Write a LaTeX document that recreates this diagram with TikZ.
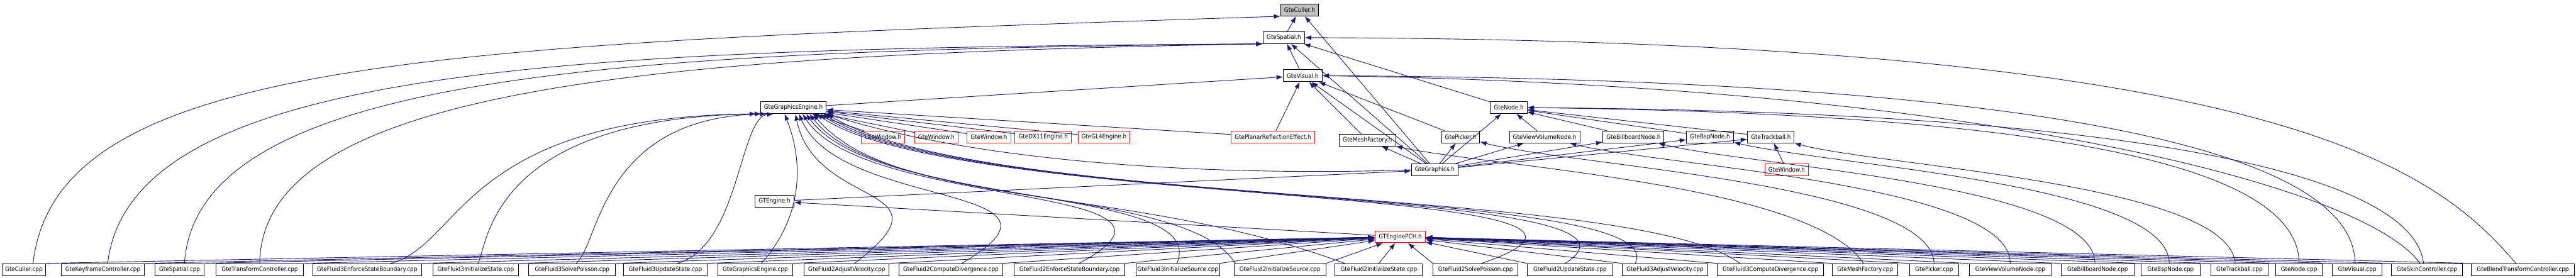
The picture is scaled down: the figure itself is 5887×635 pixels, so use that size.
\documentclass[tikz,border=0pt]{standalone}
\usepackage{fontspec}
\setmainfont{DejaVu Sans}[FakeStretch=0.88]
\usepackage{tikz}
\usetikzlibrary{arrows.meta}

\definecolor{edgeblue}{HTML}{191970}
\definecolor{rootgray}{HTML}{BFBFBF}

\tikzset{
  hbox/.style={draw=black, fill=white, line width=1.4pt, minimum height=27pt,
    inner xsep=8pt, inner ysep=0pt, font=\fontsize{14.4}{16}\selectfont},
  rootbox/.style={hbox, fill=rootgray},
  cutbox/.style={hbox, draw=red},
  cppbox/.style={hbox, inner xsep=0pt},
  dep/.style={draw=edgeblue, line width=1.3pt, {Latex[length=15pt,width=11pt]}-},
}

\begin{document}
\begin{tikzpicture}[x=1pt,y=-1pt]
    \useasboundingbox (0,0) rectangle (5887,635);

    % header nodes
    \node[rootbox] (culler_h) at (2970,23) {GteCuller.h};
    \node[hbox] (spatial_h) at (2934,86) {GteSpatial.h};
    \node[hbox] (visual_h) at (2977,173) {GteVisual.h};
    \node[hbox] (gengine_h) at (1813,246) {GteGraphicsEngine.h};
    \node[hbox] (node_h) at (3448,246) {GteNode.h};
    \node[cutbox] (win1) at (2018,313) {GteWindow.h};
    \node[cutbox] (win2) at (2140,313) {GteWindow.h};
    \node[cutbox] (win3) at (2260,313) {GteWindow.h};
    \node[cutbox] (dx11) at (2384,313) {GteDX11Engine.h};
    \node[cutbox] (gl4) at (2523,313) {GteGL4Engine.h};
    \node[cutbox] (planar) at (2909,313) {GtePlanarReflectionEffect.h};
    \node[hbox] (meshf_h) at (3125,320) {GteMeshFactory.h};
    \node[hbox] (picker_h) at (3338,313) {GtePicker.h};
    \node[hbox] (vvnode_h) at (3530,313) {GteViewVolumeNode.h};
    \node[hbox] (bbnode_h) at (3733,313) {GteBillboardNode.h};
    \node[hbox] (bspnode_h) at (3908,313) {GteBspNode.h};
    \node[hbox] (trackball_h) at (4047,313) {GteTrackball.h};
    \node[hbox] (graphics_h) at (3279,388) {GteGraphics.h};
    \node[cutbox] (win4) at (4083,388) {GteWindow.h};
    \node[hbox] (gtengine_h) at (1770,460) {GTEngine.h};
    \node[cutbox] (pch) at (3200,541) {GTEnginePCH.h};

    % source files
    \foreach \nm/\x/\w/\lab/\pin in {
        cullercpp/54.5/99/GteCuller.cpp/north east,
        keyframecpp/235/190/GteKeyframeController.cpp/north east,
        spatialcpp/410.5/113/GteSpatial.cpp/north east,
        transformcpp/593.5/201/GteTransformController.cpp/north east,
        f3esb/839/248/GteFluid3EnforceStateBoundary.cpp/north east,
        f3ist/1087/196/GteFluid3InitializeState.cpp/north east,
        f3sp/1307.5/199/GteFluid3SolvePoisson.cpp/north east,
        f3us/1520.5/191/GteFluid3UpdateState.cpp/north east,
        gecpp/1726/172/GteGraphicsEngine.cpp/north east,
        f2av/1935/194/GteFluid2AdjustVelocity.cpp/north east,
        f2cd/2173/236/GteFluid2ComputeDivergence.cpp/north east,
        f2esb/2444/252/GteFluid2EnforceStateBoundary.cpp/north east,
        f3iso/2691.5/191/GteFluid3InitializeSource.cpp/north east,
        f2iso/2925/210/GteFluid2InitializeSource.cpp/north east,
        f2ist/3151/200/GteFluid2InitializeState.cpp/north,
        f2sp/3372/194/GteFluid2SolvePoisson.cpp/north west,
        f2us/3588/196/GteFluid2UpdateState.cpp/north west,
        f3av/3805/196/GteFluid3AdjustVelocity.cpp/north west,
        f3cd/4046/242/GteFluid3ComputeDivergence.cpp/north west,
        meshfcpp/4262.5/149/GteMeshFactory.cpp/north west,
        pickercpp/4420/112/GtePicker.cpp/north west,
        vvnodecpp/4594/188/GteViewVolumeNode.cpp/north west,
        bbnodecpp/4793.5/167/GteBillboardNode.cpp/north west,
        bspnodecpp/4960.5/135/GteBspNode.cpp/north west,
        trackballcpp/5118/132/GteTrackball.cpp/north west,
        nodecpp/5254/106/GteNode.cpp/north west,
        visualcpp/5387/114/GteVisual.cpp/north west,
        skincpp/5546.5/163/GteSkinController.cpp/north west,
        blendcpp/5765.5/235/GteBlendTransformController.cpp/north west} {
        \node[cppbox, minimum width=\w] (\nm) at (\x,616) {\lab};
        \draw[dep] (pch) -- (\nm.\pin);
    }

    % GteCuller.h and GteSpatial.h
    \draw[dep] (culler_h) -- (spatial_h);
    \draw[dep] (culler_h) -- (graphics_h);
    \draw[dep] (culler_h.south west) .. controls (1000,100) and (130,130) .. ([xshift=21]cullercpp.north);
    \draw[dep] (spatial_h) -- (visual_h);
    \draw[dep] (spatial_h) -- (node_h);
    \draw[dep] (spatial_h) -- (graphics_h);
    \draw[dep] (spatial_h.south west) .. controls (1300,110) and (300,150) .. ([xshift=11]keyframecpp.north);
    \draw[dep] (spatial_h.south west) .. controls (1400,115) and (450,170) .. ([xshift=11]spatialcpp.north);
    \draw[dep] (spatial_h.south west) .. controls (1500,125) and (598,200) .. (transformcpp.north);
    \draw[dep] (spatial_h.east) .. controls (5200,92) and (5560,380) .. ([xshift=-16]blendcpp.north);

    % GteVisual.h
    \foreach \t in {gengine_h, planar, meshf_h, picker_h, graphics_h} { \draw[dep] (visual_h) -- (\t); }
    \draw[dep] (visual_h.east) .. controls (4600,180) and (5380,330) .. ([xshift=-5]visualcpp.north);
    \draw[dep] (visual_h.east) .. controls (4500,195) and (5400,420) .. ([xshift=-16]skincpp.north);

    % GteNode.h
    \foreach \t in {vvnode_h, bbnode_h, bspnode_h, trackball_h, graphics_h} { \draw[dep] (node_h) -- (\t); }
    \draw[dep] (node_h.east) .. controls (4700,260) and (5254,380) .. (nodecpp.north);
    \draw[dep] (node_h.east) .. controls (4900,255) and (5515,400) .. ([xshift=-8]skincpp.north);

    % GteGraphicsEngine.h
    \foreach \t in {win1, win2, win3, dx11, gl4, planar} { \draw[dep] (gengine_h) -- (\t); }
    \draw[dep] (gengine_h.south east) .. controls (2300,390) and (2900,400) .. (graphics_h.west);
    \foreach \t/\so/\lane/\dx in {f3esb/-85/1055/54, f3ist/-73/1116/5, f3sp/-61/1370/9, f3us/-45/1690/28} {
        \draw[dep] ([xshift=\so]gengine_h.south) .. controls (\lane,268) and (\lane,560) .. ([xshift=\dx]\t.north);
    }
    \draw[dep] ([xshift=-20]gengine_h.south) .. controls (1840,380) and (1830,500) .. ([xshift=14]gecpp.north);
    \foreach \t/\so/\cone/\ctwo/\dx in {f2av/5/1861/2192/18, f2cd/13/1918/2507/25, f2esb/21/1976/2807/22,
        f3iso/29/2003/2769/-2, f2iso/37/2019/2711/-102, f2ist/45/2042/2588/-78, f2sp/53/2185/3916/14,
        f2us/61/2208/3864/-11, f3av/69/2228/3828/-68, f3cd/77/2252/3734/-70} {
        \draw[dep] ([xshift=\so]gengine_h.south) .. controls (\cone,480) and (\ctwo,420) .. ([xshift=\dx]\t.north);
    }

    % level four headers
    \foreach \t in {meshf_h, picker_h, vvnode_h, bbnode_h, bspnode_h, trackball_h} { \draw[dep] (\t) -- (graphics_h); }
    \foreach \h/\c/\cone/\ctwo/\dx in {meshf_h/meshfcpp/3400/4141/-4, picker_h/pickercpp/3600/4412/0,
        vvnode_h/vvnodecpp/3800/4595/0, bbnode_h/bbnodecpp/4000/4787/-6, bspnode_h/bspnodecpp/4200/4955/-3,
        trackball_h/trackballcpp/4300/5095/-10} {
        \draw[dep] (\h) .. controls (\cone,380) and (\ctwo,420) .. ([xshift=\dx]\c.north);
    }
    \draw[dep] (trackball_h) -- (win4);

    % umbrella headers
    \draw[dep] (graphics_h) -- (gtengine_h);
    \draw[dep] (gtengine_h) -- (pch);
\end{tikzpicture}
\end{document}
